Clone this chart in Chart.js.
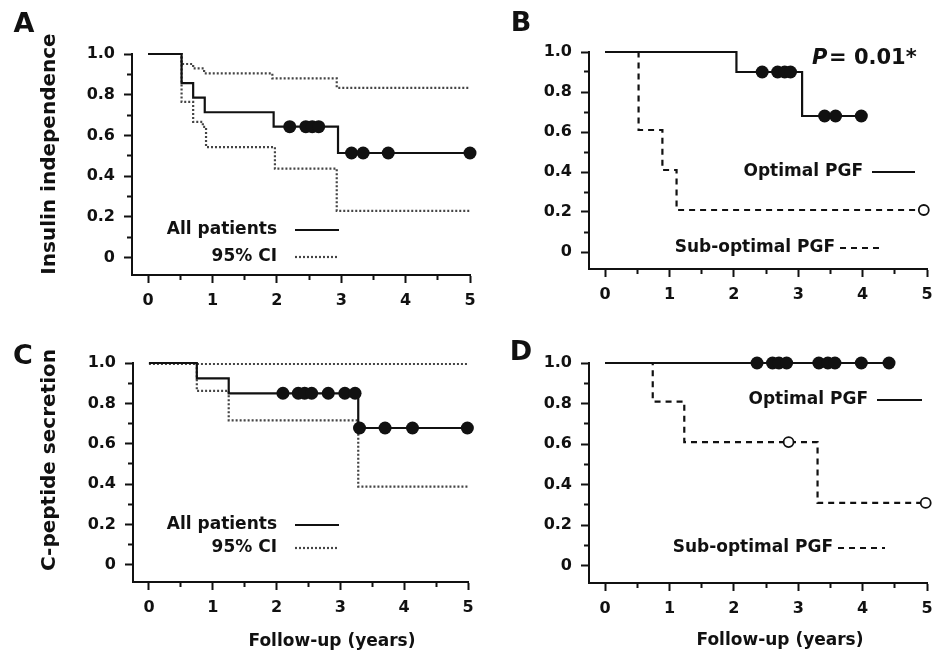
<!DOCTYPE html>
<html>
<head>
<meta charset="utf-8">
<script src="https://cdn.jsdelivr.net/npm/chart.js@4.4.1/dist/chart.umd.min.js"></script>
<style>
  body { margin: 0; background: #fff; width: 939px; height: 656px; position: relative; overflow: hidden; }
  canvas { position: absolute; }
</style>
</head>
<body>
<canvas id="chartA"></canvas>
<canvas id="chartB"></canvas>
<canvas id="chartC"></canvas>
<canvas id="chartD"></canvas>
<script>
// axis ticks
const xTickValues = [0, 0.5, 1, 1.5, 2, 2.5, 3, 3.5, 4, 4.5, 5];
const xTickLabels = ['0', '1', '2', '3', '4', '5'];
const yTickValues = [0, 0.1, 0.2, 0.3, 0.4, 0.5, 0.6, 0.7, 0.8, 0.9, 1.0];
const yTickLabels = ['0', '0.2', '0.4', '0.6', '0.8', '1.0'];

// A - insulin independence, all patients
const timeA = [0, 0.52, 0.70, 0.88, 1.95, 2.95, 5.0];
const survA = [1, 0.857, 0.786, 0.714, 0.643, 0.514, 0.514];
const censTimeA = [2.20, 2.45, 2.55, 2.65, 3.16, 3.34, 3.73, 5.0];
const censSurvA = [0.643, 0.643, 0.643, 0.643, 0.514, 0.514, 0.514, 0.514];
const upperTimeA = [0, 0.52, 0.70, 0.87, 1.93, 2.93, 5.0];
const upperA = [1, 0.951, 0.929, 0.905, 0.88, 0.834, 0.834];
const lowerTimeA = [0, 0.52, 0.70, 0.85, 0.90, 1.97, 2.93, 5.0];
const lowerA = [1, 0.765, 0.667, 0.642, 0.543, 0.437, 0.23, 0.23];

// B - insulin independence by PGF
const timeOptB = [0, 2.04, 3.06, 3.98];
const survOptB = [1, 0.9, 0.68, 0.68];
const censTimeOptB = [2.44, 2.68, 2.79, 2.88, 3.41, 3.58, 3.98];
const censSurvOptB = [0.9, 0.9, 0.9, 0.9, 0.68, 0.68, 0.68];
const timeSubB = [0, 0.52, 0.89, 1.11, 4.95];
const survSubB = [1, 0.61, 0.41, 0.21, 0.21];
const censTimeSubB = [4.95];
const censSurvSubB = [0.21];

// C - C-peptide secretion, all patients
const timeC = [0, 0.75, 1.25, 3.28, 5.0];
const survC = [1, 0.924, 0.85, 0.678, 0.678];
const censTimeC = [2.10, 2.34, 2.44, 2.55, 2.81, 3.07, 3.23, 3.30, 3.70, 4.13, 4.99];
const censSurvC = [0.85, 0.85, 0.85, 0.85, 0.85, 0.85, 0.85, 0.678, 0.678, 0.678, 0.678];
const upperTimeC = [0, 5.0];
const upperC = [0.995, 0.995];
const lowerTimeC = [0, 0.75, 1.25, 3.28, 5.0];
const lowerC = [1, 0.862, 0.716, 0.388, 0.388];

// D - C-peptide secretion by PGF
const timeOptD = [0, 4.41];
const survOptD = [1, 1];
const censTimeOptD = [2.36, 2.60, 2.70, 2.82, 3.32, 3.46, 3.57, 3.98, 4.41];
const censSurvOptD = [1, 1, 1, 1, 1, 1, 1, 1, 1];
const timeSubD = [0, 0.74, 1.23, 3.30, 4.98];
const survSubD = [1, 0.81, 0.61, 0.31, 0.31];
const censTimeSubD = [2.85, 4.98];
const censSurvSubD = [0.61, 0.31];

const INK = '#111';
const FONT = 'DejaVu Sans';
const SOLID = [], DOTTED = [2, 2], DASHED = [6, 5];

function pts(xs, ys) { return xs.map((x, i) => ({ x: x, y: ys[i] })); }

function stepLine(xs, ys, dash, color) {
    return { data: pts(xs, ys), stepped: 'before', borderColor: color || INK, borderWidth: 2.2,
             borderDash: dash, pointRadius: 0, fill: false, clip: false };
}
function dots(xs, ys, open) {
    return { data: pts(xs, ys), showLine: false, pointRadius: open ? 5 : 6.5,
             pointBackgroundColor: open ? '#fff' : INK, pointBorderColor: INK,
             pointBorderWidth: open ? 1.8 : 0, clip: false };
}

// texts + legend samples, page coordinates
const panels = [
    { id: 'chartA', box: [0, 0, 480, 316], area: [132, 54, 470, 275],
      datasets: [dots(censTimeA, censSurvA), stepLine(timeA, survA, SOLID),
                 stepLine(upperTimeA, upperA, DOTTED, '#444'), stepLine(lowerTimeA, lowerA, DOTTED, '#444')],
      texts: [
          { t: 'A', x: 24, y: 25, size: 27 },
          { t: 'Insulin independence', x: 50, y: 154, size: 20, rot: true },
          { t: 'All patients', x: 277, y: 230, size: 17, align: 'right' },
          { t: '95% CI', x: 277, y: 257, size: 17, align: 'right' }
      ],
      lines: [ [295, 339, 230, SOLID, INK], [295, 337, 257, DOTTED, '#444'] ] },
    { id: 'chartB', box: [480, 0, 459, 316], area: [589, 52, 927, 269],
      datasets: [dots(censTimeOptB, censSurvOptB), dots(censTimeSubB, censSurvSubB, true),
                 stepLine(timeOptB, survOptB, SOLID), stepLine(timeSubB, survSubB, DASHED)],
      texts: [
          { t: 'B', x: 521, y: 24, size: 27 },
          { t: 'P', x: 812, y: 59, size: 21, align: 'left', italic: true },
          { t: '= 0.01*', x: 829, y: 59, size: 21, align: 'left' },
          { t: 'Optimal PGF', x: 863, y: 172, size: 17, align: 'right' },
          { t: 'Sub-optimal PGF', x: 835, y: 248, size: 17, align: 'right' }
      ],
      lines: [ [872, 915, 172, SOLID, INK], [840, 883, 248, DASHED, INK] ] },
    { id: 'chartC', box: [0, 316, 480, 340], area: [133, 363, 468, 582],
      datasets: [dots(censTimeC, censSurvC), stepLine(timeC, survC, SOLID),
                 stepLine(upperTimeC, upperC, DOTTED, '#444'), stepLine(lowerTimeC, lowerC, DOTTED, '#444')],
      texts: [
          { t: 'C', x: 23, y: 357, size: 27 },
          { t: 'C-peptide secretion', x: 50, y: 460, size: 20, rot: true },
          { t: 'Follow-up (years)', x: 332, y: 642, size: 17 },
          { t: 'All patients', x: 277, y: 525, size: 17, align: 'right' },
          { t: '95% CI', x: 277, y: 548, size: 17, align: 'right' }
      ],
      lines: [ [295, 339, 525, SOLID, INK], [295, 337, 548, DOTTED, '#444'] ] },
    { id: 'chartD', box: [480, 316, 459, 340], area: [589, 363, 927, 583],
      datasets: [dots(censTimeOptD, censSurvOptD), dots(censTimeSubD, censSurvSubD, true),
                 stepLine(timeOptD, survOptD, SOLID), stepLine(timeSubD, survSubD, DASHED)],
      texts: [
          { t: 'D', x: 521, y: 353, size: 27 },
          { t: 'Follow-up (years)', x: 780, y: 641, size: 17 },
          { t: 'Optimal PGF', x: 868, y: 400, size: 17, align: 'right' },
          { t: 'Sub-optimal PGF', x: 833, y: 548, size: 17, align: 'right' }
      ],
      lines: [ [877, 922, 400, SOLID, INK], [838, 885, 548, DASHED, INK] ] }
];

const Y_W = 60, X_H = 40;

function textPlugin(p) {
    return {
        id: 'panelText',
        afterDraw(chart) {
            const ctx = chart.ctx, ox = p.box[0], oy = p.box[1];
            ctx.save();
            p.lines.forEach(l => {
                ctx.beginPath();
                ctx.setLineDash(l[3]);
                ctx.strokeStyle = l[4];
                ctx.lineWidth = 2.2;
                ctx.moveTo(l[0] - ox, l[2] - oy);
                ctx.lineTo(l[1] - ox, l[2] - oy);
                ctx.stroke();
            });
            ctx.setLineDash([]);
            ctx.fillStyle = INK;
            ctx.textBaseline = 'middle';
            p.texts.forEach(s => {
                ctx.font = (s.italic ? 'italic ' : '') + 'bold ' + s.size + 'px "' + FONT + '"';
                ctx.textAlign = s.align || 'center';
                if (s.rot) {
                    ctx.save();
                    ctx.translate(s.x - ox, s.y - oy);
                    ctx.rotate(-Math.PI / 2);
                    ctx.fillText(s.t, 0, 0);
                    ctx.restore();
                } else {
                    ctx.fillText(s.t, s.x - ox, s.y - oy);
                }
            });
            ctx.restore();
        }
    };
}

function isMajorX(v) { return Number.isInteger(v); }
function isMajorY(v) { return Math.round(v * 10) % 2 === 0; }

panels.forEach(p => {
    const cv = document.getElementById(p.id);
    cv.width = p.box[2]; cv.height = p.box[3];
    cv.style.left = p.box[0] + 'px'; cv.style.top = p.box[1] + 'px';
    const [L, T, R, B] = p.area;
    const tickFont = { family: FONT, weight: 'bold', size: 16 };

    new Chart(cv, {
        type: 'line',
        data: { datasets: p.datasets },
        options: {
            responsive: false,
            animation: false,
            events: [],
            layout: { padding: {
                left: L - p.box[0] - Y_W,
                top: T - p.box[1],
                right: p.box[0] + p.box[2] - R,
                bottom: p.box[1] + p.box[3] - B - X_H
            } },
            plugins: { legend: { display: false }, tooltip: { enabled: false } },
            scales: {
                x: {
                    type: 'linear', min: -0.25, max: 5,
                    afterBuildTicks: s => { s.ticks = xTickValues.map(v => ({ value: v })); },
                    afterFit: s => { s.height = X_H; s.paddingLeft = 0; s.paddingRight = 0; },
                    ticks: { autoSkip: false, maxRotation: 0, padding: 8, color: INK, font: tickFont,
                             callback: v => isMajorX(v) ? xTickLabels[v] : '' },
                    grid: { drawOnChartArea: false, tickLength: 8, tickColor: INK, tickWidth: 2,
                            tickBorderDash: c => isMajorX(c.tick.value) ? [] : [4, 30] },
                    border: { color: INK, width: 2 }
                },
                y: {
                    type: 'linear', min: -0.085, max: 1.0,
                    afterBuildTicks: s => { s.ticks = yTickValues.map(v => ({ value: v })); },
                    afterFit: s => { s.width = Y_W; s.paddingTop = 0; s.paddingBottom = 0; },
                    ticks: { autoSkip: false, padding: 9, color: INK, font: tickFont,
                             callback: v => isMajorY(v) ? yTickLabels[Math.round(v * 5)] : '' },
                    grid: { drawOnChartArea: false, tickLength: 8, tickColor: INK, tickWidth: 2,
                            tickBorderDash: c => isMajorY(c.tick.value) ? [] : [0, 3, 4, 30] },
                    border: { color: INK, width: 2 }
                }
            }
        },
        plugins: [textPlugin(p)]
    });
});
</script>
</body>
</html>
